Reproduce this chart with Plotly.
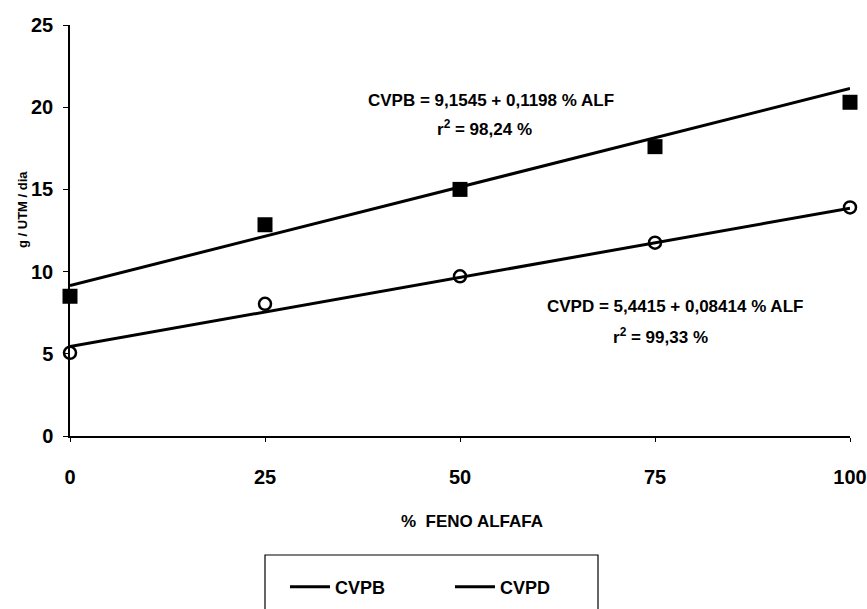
import plotly.graph_objects as go

# Percentage of alfalfa hay in the diet
feno_alfafa = [0, 25, 50, 75, 100]

# Observed intake, g / UTM / dia
cvpb_obs = [8.5, 12.85, 15.0, 17.6, 20.3]
cvpd_obs = [5.06, 8.04, 9.71, 11.76, 13.9]

# Fitted regressions: intercept, slope
cvpb_fit = [9.1545, 0.1198]
cvpd_fit = [5.4415, 0.08414]

x_ticks = [0, 25, 50, 75, 100]
y_ticks = [0, 5, 10, 15, 20, 25]

FONT = "Liberation Sans"
W, H = 867, 609
L, R, T, B = 70, 17, 25, 173


def px(x):
    return (x - L) / (W - L - R)


def py(y):
    return ((H - B) - y) / (H - B - T)


def fitted(coef, xs):
    return [coef[0] + coef[1] * x for x in xs]


fig = go.Figure()

fig.add_trace(go.Scatter(
    x=feno_alfafa, y=fitted(cvpb_fit, feno_alfafa), mode="lines", name="CVPB",
    line=dict(color="black", width=3), cliponaxis=False,
))
fig.add_trace(go.Scatter(
    x=feno_alfafa, y=fitted(cvpd_fit, feno_alfafa), mode="lines", name="CVPD",
    line=dict(color="black", width=3), cliponaxis=False,
))
fig.add_trace(go.Scatter(
    x=feno_alfafa, y=cvpb_obs, mode="markers", showlegend=False,
    marker=dict(symbol="square", size=15, color="black"), cliponaxis=False,
))
fig.add_trace(go.Scatter(
    x=feno_alfafa, y=cvpd_obs, mode="markers", showlegend=False,
    marker=dict(symbol="circle-open", size=12, color="black",
                line=dict(width=2.5, color="black")),
    cliponaxis=False,
))

ann_font = dict(family=FONT, size=17, color="black", weight="bold")
annotations = [
    dict(x=px(491), y=py(100), text="CVPB = 9,1545 + 0,1198 % ALF"),
    dict(x=px(484), y=py(128), text="r<sup>2</sup> = 98,24 %"),
    dict(x=px(675), y=py(306), text="CVPD = 5,4415 + 0,08414 % ALF"),
    dict(x=px(660), y=py(336), text="r<sup>2</sup> = 99,33 %"),
]
for a in annotations:
    a.update(xref="paper", yref="paper", showarrow=False, font=ann_font,
             xanchor="center", yanchor="middle")

annotations.append(dict(
    x=px(22), y=py(210), xref="paper", yref="paper", showarrow=False,
    text="g / UTM / dia", textangle=-90,
    font=dict(family=FONT, size=13, color="black", weight="bold"),
    xanchor="center", yanchor="middle",
))
annotations.append(dict(
    x=px(472), y=py(521), xref="paper", yref="paper", showarrow=False,
    text="%  FENO ALFAFA",
    font=dict(family=FONT, size=17, color="black", weight="bold"),
    xanchor="center", yanchor="middle",
))

tick_font = dict(family=FONT, size=20, color="black", weight="bold")

fig.update_layout(
    width=W, height=H,
    margin=dict(l=L, r=R, t=T, b=B, autoexpand=False),
    paper_bgcolor="white", plot_bgcolor="white",
    annotations=annotations,
    xaxis=dict(
        range=[0, 100], tickvals=x_ticks, ticktext=[str(v) for v in x_ticks],
        showgrid=False, zeroline=False, showline=True, linecolor="black",
        linewidth=1.5, ticks="outside", ticklen=4, tickcolor="black",
        tickfont=tick_font, ticklabelstandoff=18, automargin=False,
    ),
    yaxis=dict(
        range=[0, 25], tickvals=y_ticks, ticktext=[str(v) for v in y_ticks],
        showgrid=False, zeroline=False, showline=True, linecolor="black",
        linewidth=1.5, ticks="outside", ticklen=5, tickcolor="black",
        tickfont=tick_font, ticklabelstandoff=6, automargin=False,
    ),
    showlegend=True,
    legend=dict(
        orientation="h", x=px(285), y=py(587), xanchor="left", yanchor="middle",
        font=dict(family=FONT, size=18, color="black", weight="bold"),
        bgcolor="rgba(0,0,0,0)", borderwidth=0,
        entrywidth=110, itemwidth=40,
    ),
    shapes=[dict(
        type="rect", xref="paper", yref="paper",
        x0=px(265), x1=px(598), y0=py(555), y1=py(625),
        line=dict(color="black", width=1.2), fillcolor="rgba(0,0,0,0)",
    )],
)

fig.write_html("out.html")
